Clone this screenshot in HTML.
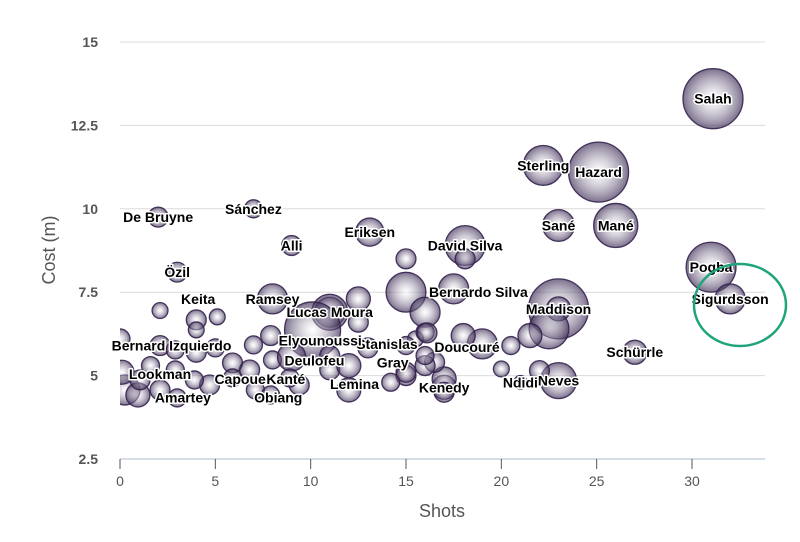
<!DOCTYPE html>
<html><head><meta charset="utf-8"><style>
html,body{margin:0;padding:0;background:#fff;}
svg{display:block;font-family:"Liberation Sans",sans-serif;}
.lbl{font-weight:bold;font-size:14px;fill:#000;stroke:#fff;stroke-width:3px;paint-order:stroke;stroke-linejoin:round;}
</style></head><body>
<svg id="chart" width="800" height="542" viewBox="0 0 800 542">
<defs>
<radialGradient id="bg" cx="50%" cy="50%" r="50%">
<stop offset="0%" stop-color="#ffffff" stop-opacity="0.35"/>
<stop offset="100%" stop-color="#35244f" stop-opacity="0.65"/>
</radialGradient>
<clipPath id="plotclip"><rect x="120" y="0" width="680" height="459"/></clipPath>
</defs>
<g id="grid"></g>
<g id="axes"></g>
<g id="bubbles" clip-path="url(#plotclip)"></g>
<g id="labels"></g>
<ellipse cx="740" cy="305" rx="46" ry="41" fill="none" stroke="#1fa47c" stroke-width="2.5"/>
<text x="55" y="250" transform="rotate(-90 55 250)" text-anchor="middle" font-size="18" fill="#555">Cost (m)</text>
<text x="442" y="517" text-anchor="middle" font-size="18" fill="#555">Shots</text>
</svg>
<script>
const xTicks=[0,5,10,15,20,25,30];
const yTicks=[2.5,5,7.5,10,12.5,15];
const yTickLabels=["2.5","5","7.5","10","12.5","15"];
const shots=[31.1,25.1,22.2,23,26,31,32,27,23,21,17,23,18.1,18.1,15,13.1,9,7,2,3,8,11,
 22,20,17,17,23,22.5,21.5,15,16,19,18,20.5,16.5,15,16,15.5,16,17.5,12.5,12.5,11,10.1,
 0.26,0.94,1.05,0.1,2.1,3,1.6,2.9,2.1,2.9,4,5,5.9,4.7,3.9,5.9,6.8,7,7.9,8,9,9.4,8.9,11,11,12,12,13,7.1,7.9,15,14.2,16.1,15,16,2.1,4,5.1,4,0];
const cost=[13.3,11.1,11.3,9.5,9.5,8.25,7.3,5.7,4.85,4.8,4.65,7.0,8.9,8.5,8.5,9.3,8.9,10,9.75,8.1,7.3,6.9,
 5.15,5.2,4.9,4.5,7.0,6.4,6.2,7.5,6.9,5.95,6.2,5.9,5.4,5.0,5.3,6.1,6.3,7.6,7.3,6.6,6.9,6.37,
 4.57,4.42,4.87,5.1,4.57,4.33,5.3,5.17,5.9,5.77,5.7,5.83,5.38,4.72,4.87,4.93,5.17,5.92,6.2,5.47,5.56,4.72,4.93,5.17,5.6,5.3,4.57,5.83,4.57,4.42,5.1,4.8,6.28,5.9,5.6,6.95,6.67,6.76,6.37,6.1];
const points=[100,100,44,28,54,69,25,16,36,5,16,100,44,11,11,22,11,9,11,11,25,25,
 11,7,16,11,16,44,16,44,25,25,16,9,11,11,11,7,9,25,16,11,36,87,
 25,16,11,16,11,9,9,9,11,9,11,9,11,11,9,9,11,9,11,9,22,11,9,11,11,16,16,11,9,9,11,9,11,9,9,7,11,7,7,11];
const names=["Salah","Hazard","Sterling","Sané","Mané","Pogba","Sigurdsson","Schürrle","Neves","Ndidi","Kenedy","Maddison","David Silva","","","Eriksen","Alli","Sánchez","De Bruyne","Özil","Ramsey","Lucas Moura"];
const extraLabels=["Doucouré","Bernardo Silva","Stanislas","Gray","Elyounoussi","Deulofeu","Lemina","Kanté","Obiang","Capoue","Bernard Izquierdo","Lookman","Amartey","Keita"];
const extraX=[18.2,18.8,14,14.3,10.5,10.2,12.3,8.7,8.3,6.3,2.7,2.1,3.3,4.1];
const extraY=[5.85,7.5,5.95,5.4,6.05,5.45,4.75,4.9,4.35,4.9,5.9,5.05,4.35,7.3];
const ns="http://www.w3.org/2000/svg";
function sx(v){return 120+v*(692-120)/30;}
function sy(v){return 459-(v-2.5)*(459-42)/12.5;}
function mk(tag,attrs,parent){const e=document.createElementNS(ns,tag);for(const k in attrs)e.setAttribute(k,attrs[k]);parent.appendChild(e);return e;}
const grid=document.getElementById('grid'),axes=document.getElementById('axes'),bub=document.getElementById('bubbles'),lab=document.getElementById('labels');
yTicks.forEach((t,i)=>{
 if(i>0){const l=mk('line',{x1:120,x2:765,y1:sy(t),y2:sy(t),stroke:'#dcdcdc','stroke-width':1},grid);
 
 }
 const tx=mk('text',{x:98,y:sy(t)+5,'text-anchor':'end','font-size':14,fill:'#555','font-weight':'bold'},axes);
 tx.textContent=yTickLabels[i];
 
 
});
const ax=mk('line',{x1:120,x2:765,y1:459,y2:459,stroke:'#c8d3df','stroke-width':1.5},axes);


xTicks.forEach(t=>{
 const tk=mk('line',{x1:sx(t),x2:sx(t),y1:459,y2:469,stroke:'#555','stroke-width':1},axes);
 
 
 const tx=mk('text',{x:sx(t),y:486,'text-anchor':'middle','font-size':14,fill:'#555'},axes);
 tx.textContent=String(t);
 
 
});
shots.forEach((s,i)=>{
 const c=mk('circle',{cx:sx(s),cy:sy(cost[i]),r:Math.sqrt(points[i])*3,fill:'url(#bg)',stroke:'#35244f','stroke-width':1.3,'stroke-opacity':0.9},bub);
 
 
});
names.forEach((n,i)=>{
 if(!n)return;
 const t=mk('text',{x:sx(shots[i]),y:sy(cost[i])+5,'text-anchor':'middle',class:'lbl'},lab);
 t.textContent=n;
 
 
});
extraLabels.forEach((n,i)=>{
 const t=mk('text',{x:sx(extraX[i]),y:sy(extraY[i])+5,'text-anchor':'middle',class:'lbl'},lab);
 t.textContent=n;
 
 
});
</script>
</body></html>
